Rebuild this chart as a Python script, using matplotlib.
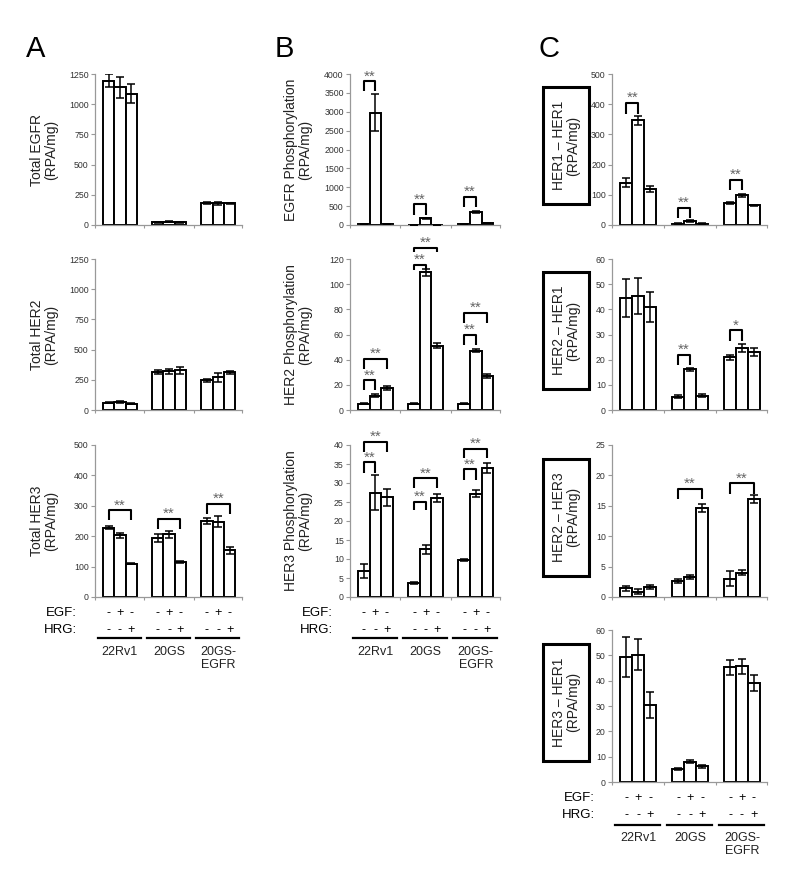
import matplotlib
matplotlib.use("Agg")
import matplotlib.pyplot as plt
import matplotlib.transforms as mtransforms
from matplotlib.patches import Rectangle
import numpy as np

plt.rcParams['font.family'] = ['Liberation Sans', 'DejaVu Sans']

W, H = 800, 882

# ---- data ----
cells = ["22Rv1", "20GS", "20GS-\nEGFR"]
egf_signs = ["-", "+", "-"]
hrg_signs = ["-", "-", "+"]

total_egfr = [1195, 1140, 1087, 22, 28, 22, 185, 179, 179]
total_egfr_err = [55, 87, 78, 3, 4, 3, 8, 12, 5]

total_her2 = [60, 68, 51, 315, 320, 330, 247, 272, 312]
total_her2_err = [5, 10, 4, 18, 18, 30, 12, 38, 14]

total_her3 = [228, 203, 110, 194, 206, 115, 250, 248, 153]
total_her3_err = [5, 8, 3, 12, 12, 3, 11, 17, 10]
total_her3_sig = [(0, 0, 2, 285, 252, "**"), (1, 0, 2, 257, 225, "**"),
                  (2, 0, 2, 307, 274, "**")]

egfr_phos = [30, 2980, 30, 10, 177, 10, 30, 354, 40]
egfr_phos_err = [0, 480, 0, 0, 20, 0, 0, 30, 0]
egfr_phos_sig = [(0, 0, 1, 3805, 3540, "**"), (1, 0, 1, 549, 265, "**"),
                 (2, 0, 1, 752, 487, "**")]

her2_phos = [5, 11.5, 17.3, 5, 109.4, 51.2, 5, 47.2, 27.3]
her2_phos_err = [0.5, 1.2, 1.5, 0.5, 3, 2, 0.5, 1.5, 1.5]
her2_phos_sig = [(0, 0, 1, 23.6, 15.7, "**"), (0, 0, 2, 40.4, 32.5, "**"),
                 (1, 0, 1, 115.5, 111.6, "**"), (1, 0, 2, 128.8, 125.8, "**"),
                 (2, 0, 1, 59.6, 51.8, "**"), (2, 0, 2, 77.2, 68.8, "**")]

her3_phos = [6.9, 27.5, 26.2, 3.6, 12.6, 26.0, 9.7, 27.2, 34.0]
her3_phos_err = [1.9, 4.5, 2.3, 0.3, 1.2, 1.0, 0.3, 1.0, 1.3]
her3_phos_sig = [(0, 0, 1, 35.4, 32.7, "**"), (0, 0, 2, 40.9, 38.2, "**"),
                 (1, 0, 1, 25.0, 22.9, "**"), (1, 0, 2, 31.2, 28.6, "**"),
                 (2, 0, 1, 33.6, 30.8, "**"), (2, 0, 2, 38.9, 36.5, "**")]

her1_her1 = [140, 347, 118, 4, 13, 4, 74, 98, 65]
her1_her1_err = [15, 15, 10, 1, 2, 1, 3, 5, 2]
her1_her1_sig = [(0, 0, 1, 404, 369, "**"), (1, 0, 1, 57, 24, "**"),
                 (2, 0, 1, 149, 115, "**")]

her2_her1 = [44.5, 45.3, 40.8, 5.3, 16.1, 5.7, 20.9, 24.6, 23.0]
her2_her1_err = [7.5, 7, 6, 0.5, 0.7, 0.6, 1, 1.5, 1.5]
her2_her1_sig = [(1, 0, 1, 22, 18, "**"), (2, 0, 1, 31.6, 27.5, "*")]

her2_her3 = [1.4, 0.9, 1.65, 2.65, 3.3, 14.6, 3.0, 4.0, 16.1]
her2_her3_err = [0.4, 0.4, 0.3, 0.3, 0.4, 0.7, 1.2, 0.4, 0.6]
her2_her3_sig = [(1, 0, 2, 17.8, 16.1, "**"), (2, 0, 2, 18.7, 17.0, "**")]

her3_her1 = [49.4, 50.3, 30.4, 5.2, 8.0, 6.2, 45.2, 45.7, 39.1]
her3_her1_err = [7.8, 6.2, 5, 0.3, 0.6, 0.5, 3, 3, 3]

GROUP_STEP = 4.35
XLIM = (-1.2, 11.8)


def xpos(g, i):
    return g * GROUP_STEP + i


fig = plt.figure(figsize=(W / 100, H / 100), dpi=100)


def make_axes(left, top, right, bottom):
    return fig.add_axes([left / W, 1 - bottom / H, (right - left) / W, (bottom - top) / H])


def bar_panel(ax, vals, errs, ymax, ystep, sig=()):
    x = [xpos(g, i) for g in range(3) for i in range(3)]
    ax.bar(x, vals, width=1.0, color="white", edgecolor="black", linewidth=1.4, zorder=2)
    ax.errorbar(x, vals, yerr=errs, fmt="none", ecolor="black", elinewidth=1.1,
                capsize=2.8, capthick=1.1, zorder=3)
    ax.set_xlim(*XLIM)
    ax.set_ylim(0, ymax)
    ax.set_yticks(np.arange(0, ymax + ystep / 2, ystep))
    ax.set_xticks([XLIM[0], 3.175, 7.525, XLIM[1]])
    ax.set_xticklabels([])
    for s in ["top", "right"]:
        ax.spines[s].set_visible(False)
    for s in ["left", "bottom"]:
        ax.spines[s].set_color("#999999")
        ax.spines[s].set_linewidth(0.9)
    ax.tick_params(axis="y", labelsize=6.3, colors="#999999", labelcolor="#333333",
                   length=3, width=0.8, pad=1.5)
    ax.tick_params(axis="x", colors="#999999", length=2, width=0.8)
    for g, i, j, top, arm, star in sig:
        x1, x2 = xpos(g, i), xpos(g, j)
        ax.plot([x1, x1, x2, x2], [arm, top, top, arm], color="black", lw=1.5,
                clip_on=False, zorder=4, solid_capstyle="butt")
        ax.annotate(star, xy=((x1 + x2) / 2, top), xytext=(0, -1.5),
                    textcoords="offset points", ha="center", va="bottom",
                    fontsize=11, color="#666666", annotation_clip=False)


def treatment_labels(ax, label_right, ys):
    y_egf, y_hrg, y_line, y_cell = ys
    tr = mtransforms.blended_transform_factory(ax.transData, fig.transFigure)
    fig.text(label_right / W, 1 - y_egf / H, "EGF:", ha="right", va="center", fontsize=9.5)
    fig.text(label_right / W, 1 - y_hrg / H, "HRG:", ha="right", va="center", fontsize=9.5)
    for g in range(3):
        for i in range(3):
            ax.text(xpos(g, i), 1 - y_egf / H, egf_signs[i], transform=tr,
                    ha="center", va="center", fontsize=9)
            ax.text(xpos(g, i), 1 - y_hrg / H, hrg_signs[i], transform=tr,
                    ha="center", va="center", fontsize=9)
        ax.plot([xpos(g, 0) - 0.95, xpos(g, 2) + 0.85], [1 - y_line / H] * 2,
                transform=tr, color="black", lw=1.6, clip_on=False)
        ax.text(xpos(g, 1), 1 - y_cell / H, cells[g], transform=tr, ha="center",
                va="top", fontsize=9, linespacing=1.1, color="#222222")


def ylabel_plain(cx, top, bottom, text):
    fig.text(cx / W, 1 - (top + bottom) / 2 / H, text, rotation=90, ha="center",
             va="center", fontsize=10, multialignment="center", linespacing=1.05,
             color="#222222")


def ylabel_box(top, bottom, text):
    cy = (top + bottom) / 2 - 4
    fig.patches.append(Rectangle((543 / W, 1 - (cy + 58.5) / H), 46 / W, 117 / H,
                                 transform=fig.transFigure, fill=False,
                                 edgecolor="black", linewidth=2.2))
    fig.text(566 / W, 1 - cy / H, text, rotation=90, ha="center", va="center",
             fontsize=10, multialignment="center", linespacing=1.05, color="#222222")


rows = [(74, 225), (259, 410), (445, 597), (630, 782)]
colA, colB, colC = (95, 242), (350, 500), (612, 767)

# column A
axA1 = make_axes(colA[0], rows[0][0], colA[1], rows[0][1])
bar_panel(axA1, total_egfr, total_egfr_err, 1250, 250)
ylabel_plain(44, *rows[0], "Total EGFR\n(RPA/mg)")

axA2 = make_axes(colA[0], rows[1][0], colA[1], rows[1][1])
bar_panel(axA2, total_her2, total_her2_err, 1250, 250)
ylabel_plain(44, *rows[1], "Total HER2\n(RPA/mg)")

axA3 = make_axes(colA[0], rows[2][0], colA[1], rows[2][1])
bar_panel(axA3, total_her3, total_her3_err, 500, 100, total_her3_sig)
ylabel_plain(44, *rows[2], "Total HER3\n(RPA/mg)")
treatment_labels(axA3, 77, (613, 630, 638, 646))

# column B
axB1 = make_axes(colB[0], rows[0][0], colB[1], rows[0][1])
bar_panel(axB1, egfr_phos, egfr_phos_err, 4000, 500, egfr_phos_sig)
ylabel_plain(298, *rows[0], "EGFR Phosphorylation\n(RPA/mg)")

axB2 = make_axes(colB[0], rows[1][0], colB[1], rows[1][1])
bar_panel(axB2, her2_phos, her2_phos_err, 120, 20, her2_phos_sig)
ylabel_plain(298, *rows[1], "HER2 Phosphorylation\n(RPA/mg)")

axB3 = make_axes(colB[0], rows[2][0], colB[1], rows[2][1])
bar_panel(axB3, her3_phos, her3_phos_err, 40, 5, her3_phos_sig)
ylabel_plain(298, *rows[2], "HER3 Phosphorylation\n(RPA/mg)")
treatment_labels(axB3, 333, (613, 630, 638, 646))

# column C
axC1 = make_axes(colC[0], rows[0][0], colC[1], rows[0][1])
bar_panel(axC1, her1_her1, her1_her1_err, 500, 100, her1_her1_sig)
ylabel_box(*rows[0], "HER1 \u2013 HER1\n(RPA/mg)")

axC2 = make_axes(colC[0], rows[1][0], colC[1], rows[1][1])
bar_panel(axC2, her2_her1, her2_her1_err, 60, 10, her2_her1_sig)
ylabel_box(*rows[1], "HER2 \u2013 HER1\n(RPA/mg)")

axC3 = make_axes(colC[0], rows[2][0], colC[1], rows[2][1])
bar_panel(axC3, her2_her3, her2_her3_err, 25, 5, her2_her3_sig)
ylabel_box(*rows[2], "HER2 \u2013 HER3\n(RPA/mg)")

axC4 = make_axes(colC[0], rows[3][0], colC[1], rows[3][1])
bar_panel(axC4, her3_her1, her3_her1_err, 60, 10)
ylabel_box(*rows[3], "HER3 \u2013 HER1\n(RPA/mg)")
treatment_labels(axC4, 595, (798, 815, 825, 832))

# panel letters
for x, letter in [(26, "A"), (275, "B"), (539, "C")]:
    fig.text(x / W, 1 - 57 / H, letter, fontsize=21, ha="left", va="baseline")

fig.savefig("out.png", dpi=100, facecolor="white")
